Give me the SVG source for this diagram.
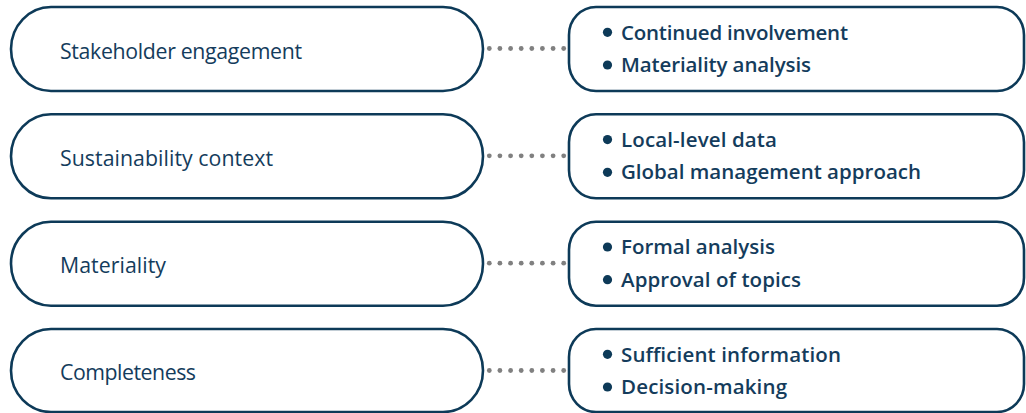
<svg xmlns="http://www.w3.org/2000/svg" width="1026" height="413" viewBox="0 0 1026 413">
<style>
.pill{fill:#ffffff;stroke:#0d3a58;stroke-width:2.6}
.lt{font-family:"Open Sans","Liberation Sans",Arial,sans-serif;font-size:21.3px;fill:#143c5c}
.rt{font-family:"Open Sans","Liberation Sans",Arial,sans-serif;font-size:20.5px;font-weight:600;fill:#143c5c}
.bul{fill:#0d3a58}
.dot{fill:#808080}
</style>
<defs>
<g id="dotrow">
<circle class="dot" cx="489.3" cy="0" r="2.4"/>
<circle class="dot" cx="499.9" cy="0" r="2.4"/>
<circle class="dot" cx="510.6" cy="0" r="2.4"/>
<circle class="dot" cx="521.2" cy="0" r="2.4"/>
<circle class="dot" cx="531.8" cy="0" r="2.4"/>
<circle class="dot" cx="542.4" cy="0" r="2.4"/>
<circle class="dot" cx="553.1" cy="0" r="2.4"/>
<circle class="dot" cx="563.7" cy="0" r="2.4"/>
</g>
</defs>
<rect width="1026" height="413" fill="#ffffff"/>
<g id="connectors">
<use href="#dotrow" y="48.5"/>
<use href="#dotrow" y="155.8"/>
<use href="#dotrow" y="263.2"/>
<use href="#dotrow" y="370.5"/>
</g>
<g id="n1">
<rect class="pill" x="11" y="7" width="472" height="84" rx="40" ry="42"/>
<text class="lt" x="60" y="58.5" textLength="242" lengthAdjust="spacing">Stakeholder engagement</text>
</g>
<g id="d1">
<rect class="pill" x="569" y="7" width="455" height="84" rx="27" ry="28"/>
<circle class="bul" cx="607.5" cy="32.3" r="4.6"/>
<circle class="bul" cx="607.5" cy="65" r="4.6"/>
<text class="rt" x="621" y="39.5" textLength="227" lengthAdjust="spacing">Continued involvement</text>
<text class="rt" x="621" y="72" textLength="190" lengthAdjust="spacing">Materiality analysis</text>
</g>
<g id="n2">
<rect class="pill" x="11" y="114.3" width="472" height="84" rx="40" ry="42"/>
<text class="lt" x="60" y="165.5" textLength="213" lengthAdjust="spacing">Sustainability context</text>
</g>
<g id="d2">
<rect class="pill" x="569" y="114.3" width="455" height="84" rx="27" ry="28"/>
<circle class="bul" cx="607.5" cy="139.6" r="4.6"/>
<circle class="bul" cx="607.5" cy="172.3" r="4.6"/>
<text class="rt" x="621" y="146.8" textLength="156" lengthAdjust="spacing">Local-level data</text>
<text class="rt" x="621" y="179.3" textLength="300" lengthAdjust="spacing">Global management approach</text>
</g>
<g id="n3">
<rect class="pill" x="11" y="221.7" width="472" height="84" rx="40" ry="42"/>
<text class="lt" x="60" y="273" textLength="106" lengthAdjust="spacing">Materiality</text>
</g>
<g id="d3">
<rect class="pill" x="569" y="221.7" width="455" height="84" rx="27" ry="28"/>
<circle class="bul" cx="607.5" cy="247" r="4.6"/>
<circle class="bul" cx="607.5" cy="279.7" r="4.6"/>
<text class="rt" x="621" y="254.2" textLength="154" lengthAdjust="spacing">Formal analysis</text>
<text class="rt" x="621" y="286.7" textLength="180" lengthAdjust="spacing">Approval of topics</text>
</g>
<g id="n4">
<rect class="pill" x="11" y="329" width="472" height="83" rx="40" ry="41.5"/>
<text class="lt" x="60" y="380.3" textLength="136" lengthAdjust="spacing">Completeness</text>
</g>
<g id="d4">
<rect class="pill" x="569" y="329" width="455" height="83" rx="27" ry="28"/>
<circle class="bul" cx="607.5" cy="354.3" r="4.6"/>
<circle class="bul" cx="607.5" cy="387" r="4.6"/>
<text class="rt" x="621" y="361.5" textLength="220" lengthAdjust="spacing">Sufficient information</text>
<text class="rt" x="621" y="394" textLength="166" lengthAdjust="spacing">Decision-making</text>
</g>
</svg>
